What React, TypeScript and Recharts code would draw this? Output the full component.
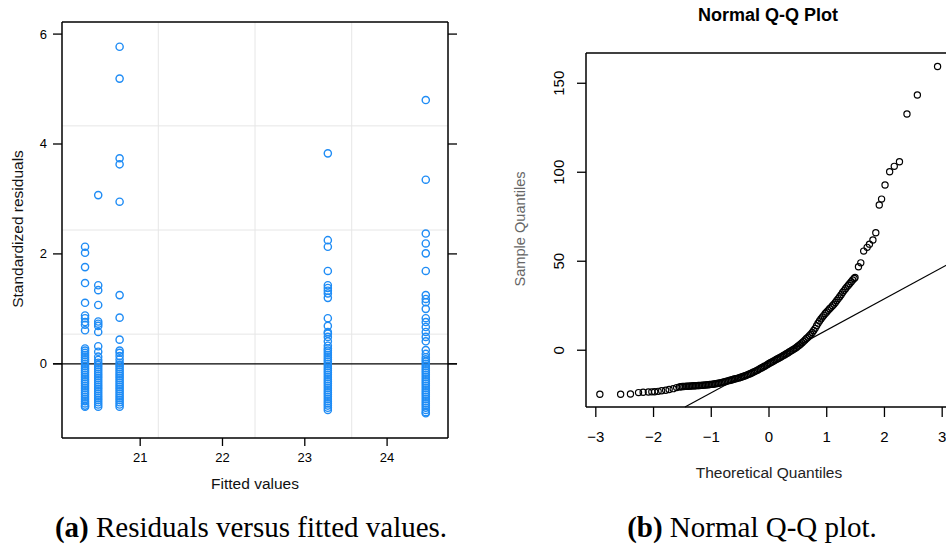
import React from 'react';
import { ScatterChart, Scatter, XAxis, YAxis, ReferenceLine } from 'recharts';

// ---- panel (a): residuals vs fitted ----
const fittedLevels = [20.33, 20.49, 20.75, 23.28, 24.47];
const residA = [
  2.13, 2.02, 1.76, 1.47, 1.11, 0.88, 0.83, 0.76, 0.71, 0.61,
  0.28, 0.24, 0.2, 0.16, 0.12, 0.08, 0.04, 0, -0.04, -0.08, -0.12, -0.16, -0.2, -0.24,
  -0.28, -0.32, -0.36, -0.4, -0.44, -0.48, -0.52, -0.56, -0.6, -0.64, -0.68, -0.72, -0.76, -0.78,
];
const residB = [
  3.07, 1.43, 1.34, 1.07, 0.77, 0.73, 0.69, 0.58, 0.32, 0.22, 0.13, 0.07,
  0.02, -0.02, -0.06, -0.1, -0.14, -0.18, -0.22, -0.26, -0.3, -0.34, -0.38, -0.42, -0.46,
  -0.5, -0.54, -0.58, -0.62, -0.66, -0.7, -0.74, -0.78,
];
const residC = [
  5.77, 5.19, 3.74, 3.63, 2.95, 1.25, 0.84, 0.44, 0.24, 0.2, 0.14, 0.08,
  0.02, -0.02, -0.06, -0.1, -0.14, -0.18, -0.22, -0.26, -0.3, -0.34, -0.38, -0.42, -0.46,
  -0.5, -0.54, -0.58, -0.62, -0.66, -0.7, -0.74, -0.78,
];
const residD = [
  3.83, 2.25, 2.13, 1.69, 1.43, 1.38, 1.33, 1.28, 1.2, 0.83, 0.69, 0.58, 0.55, 0.49, 0.41, 0.33,
  0.28, 0.24, 0.2, 0.16, 0.12, 0.08, 0.04, 0, -0.04, -0.08, -0.12, -0.16, -0.2, -0.24,
  -0.28, -0.32, -0.36, -0.4, -0.44, -0.48, -0.52, -0.56, -0.6, -0.64, -0.68, -0.72, -0.76, -0.8, -0.84,
];
const residE = [
  4.8, 3.35, 2.37, 2.19, 2.01, 1.69, 1.25, 1.18, 1.12, 1.0, 0.83, 0.76, 0.67, 0.58, 0.49, 0.41, 0.25, 0.18,
  0.12, 0.08, 0.04, 0, -0.04, -0.08, -0.12, -0.16, -0.2, -0.24, -0.28, -0.32, -0.36, -0.4,
  -0.44, -0.48, -0.52, -0.56, -0.6, -0.64, -0.68, -0.72, -0.76, -0.8, -0.84, -0.88, -0.9,
];
const residColumns = [residA, residB, residC, residD, residE];
const fittedTicks = [21, 22, 23, 24];
const residTicks = [0, 2, 4, 6];
const gridX = [21.22, 22.395, 23.57];
const gridY = [0.54, 2.435, 4.33];

// ---- panel (b): normal Q-Q ----
const qqLowTheo = [-2.93, -2.57, -2.4, -2.26, -2.18, -2.09, -2.03, -1.98, -1.92, -1.86, -1.79, -1.73, -1.66, -1.6, -1.55];
const qqLowSample = [-24.7, -24.7, -24.6, -23.8, -23.6, -23.5, -23.4, -23.3, -23.1, -22.8, -22.5, -22.1, -21.6, -21.0, -20.6];
const qqBodyTheo = [
  -1.525, -1.5, -1.475, -1.45, -1.425, -1.4, -1.375, -1.35, -1.325, -1.3, -1.275, -1.25, -1.225, -1.2, -1.175,
  -1.15, -1.125, -1.1, -1.075, -1.05, -1.025, -1.0, -0.975, -0.95, -0.925, -0.9, -0.875, -0.85, -0.825, -0.8,
  -0.775, -0.75, -0.725, -0.7, -0.675, -0.65, -0.625, -0.6, -0.575, -0.55, -0.525, -0.5, -0.475, -0.45, -0.425,
  -0.4, -0.375, -0.35, -0.325, -0.3, -0.275, -0.25, -0.225, -0.2, -0.175, -0.15, -0.125, -0.1, -0.075, -0.05,
  -0.025, 0, 0.025, 0.05, 0.075, 0.1, 0.125, 0.15, 0.175, 0.2, 0.225, 0.25, 0.275, 0.3, 0.325,
  0.35, 0.375, 0.4, 0.425, 0.45, 0.475, 0.5, 0.525, 0.55, 0.575, 0.6, 0.625, 0.65, 0.675, 0.7,
  0.725, 0.75, 0.775, 0.8, 0.825, 0.85, 0.875, 0.9, 0.925, 0.95, 0.975, 1.0, 1.025, 1.05, 1.075,
  1.1, 1.125, 1.15, 1.175, 1.2, 1.225, 1.25, 1.275, 1.3, 1.325, 1.35, 1.375, 1.4, 1.425, 1.45,
  1.475, 1.49,
];
const qqBodySample = [
  -20.5, -20.4, -20.35, -20.3, -20.25, -20.2, -20.15, -20.1, -20.05, -20.0, -19.95, -19.9, -19.85, -19.8, -19.75,
  -19.7, -19.6, -19.5, -19.45, -19.4, -19.3, -19.2, -19.1, -19.0, -18.85, -18.7, -18.55, -18.4, -18.2, -18.0,
  -17.8, -17.6, -17.35, -17.1, -16.9, -16.7, -16.45, -16.2, -16.0, -15.8, -15.55, -15.3, -15.05, -14.8, -14.5,
  -14.2, -13.85, -13.5, -13.15, -12.8, -12.4, -12.0, -11.6, -11.2, -10.75, -10.3, -9.85, -9.4, -8.95, -8.5,
  -8.0, -7.5, -7.05, -6.6, -6.15, -5.7, -5.25, -4.8, -4.35, -3.9, -3.45, -3.0, -2.5, -2.0, -1.5,
  -1.0, -0.5, 0.0, 0.5, 1.0, 1.6, 2.2, 2.85, 3.5, 4.25, 5.0, 5.8, 6.6, 7.35, 8.1,
  9.0, 10.0, 11.1, 12.3, 13.8, 15.2, 16.4, 17.6, 18.6, 19.6, 20.6, 21.5, 22.4, 23.3, 24.1,
  25.0, 25.9, 26.8, 27.9, 29.0, 30.1, 31.2, 32.4, 33.5, 34.6, 35.6, 36.5, 37.5, 38.5, 39.5,
  40.3, 40.9,
];
const qqHighTheo = [1.55, 1.59, 1.64, 1.7, 1.74, 1.8, 1.85, 1.91, 1.95, 2.01, 2.09, 2.17, 2.26, 2.39, 2.57, 2.92];
const qqHighSample = [46.9, 49.1, 55.7, 57.8, 59.6, 61.9, 66.0, 81.6, 84.9, 92.8, 100.3, 103.3, 105.9, 132.7, 143.4, 159.4];
const qqLine = [
  { x: -1.456, y: -31.9 },
  { x: 3.17, y: 49.5 },
];
const quantTicks = [-3, -2, -1, 0, 1, 2, 3];
const sampleTicks = [0, 50, 100, 150];

const residData = residColumns.flatMap((col, i) => col.map((r) => ({ x: fittedLevels[i], y: r })));
const qqTheo = [...qqLowTheo, ...qqBodyTheo, ...qqHighTheo];
const qqSample = [...qqLowSample, ...qqBodySample, ...qqHighSample];
const qqData = qqTheo.map((t, i) => ({ x: t, y: qqSample[i] }));

const SANS = '"Liberation Sans", Arial, Helvetica, sans-serif';
const SERIF = '"Liberation Serif", "Times New Roman", serif';

const BlueRing = (p: any) => (
  <circle cx={p.cx} cy={p.cy} r={3.6} fill="none" stroke="#1f8cf5" strokeWidth={1.4} />
);
const BlackRing = (p: any) => (
  <circle cx={p.cx} cy={p.cy} r={3.1} fill="none" stroke="#000" strokeWidth={1.2} />
);
const NoTick = () => <g />;

const leftBottomTick = (p: any) => (
  <text x={p.x} y={p.y} dy={14} textAnchor="middle" fontSize={13} fontFamily={SANS} fill="#000">
    {p.payload.value}
  </text>
);
const leftYTick = (p: any) => (
  <text x={p.x} y={p.y} dx={-4} dy={4.5} textAnchor="end" fontSize={13} fontFamily={SANS} fill="#000">
    {p.payload.value}
  </text>
);
const minus = (v: number) => (v < 0 ? `\u2212${Math.abs(v)}` : `${v}`);
const qqXTick = (p: any) => (
  <text x={p.x} y={p.y} dy={23} textAnchor="middle" fontSize={15} fontFamily={SANS} fill="#000">
    {minus(p.payload.value)}
  </text>
);
const qqYTick = (p: any) => {
  const bx = p.x - 10.5;
  return (
    <text
      x={bx}
      y={p.y}
      transform={`rotate(-90, ${bx}, ${p.y})`}
      textAnchor="middle"
      fontSize={15}
      fontFamily={SANS}
      fill="#000"
    >
      {p.payload.value}
    </text>
  );
};

const Txt: React.FC<{ cx: number; cy: number; rot?: number; style?: React.CSSProperties; children: React.ReactNode }> = ({
  cx,
  cy,
  rot = 0,
  style,
  children,
}) => (
  <div
    style={{
      position: 'absolute',
      left: cx,
      top: cy,
      transform: `translate(-50%, -50%) rotate(${rot}deg)`,
      whiteSpace: 'nowrap',
      lineHeight: 1,
      ...style,
    }}
  >
    {children}
  </div>
);

const App: React.FC = () => {
  return (
    <div
      style={{
        position: 'absolute',
        left: 0,
        top: 0,
        width: 946,
        height: 545,
        overflow: 'hidden',
        background: '#fff',
        fontFamily: SANS,
      }}
    >
      {/* (a) residuals vs fitted: plot box 62..448 x 22..438 */}
      <div style={{ position: 'absolute', left: 0, top: 0 }}>
        <ScatterChart width={470} height={500} margin={{ top: 12, right: 10, bottom: 32, left: 22 }}>
          <XAxis
            xAxisId="b"
            type="number"
            dataKey="x"
            domain={[20.05, 24.74]}
            ticks={fittedTicks}
            allowDataOverflow
            height={30}
            tickSize={8}
            tickMargin={2}
            tick={leftBottomTick}
            axisLine={{ stroke: '#000', strokeWidth: 1.5 }}
            tickLine={{ stroke: '#000', strokeWidth: 1.3 }}
          />
          <XAxis
            xAxisId="t"
            orientation="top"
            type="number"
            domain={[20.05, 24.74]}
            ticks={fittedTicks}
            allowDataOverflow
            height={10}
            tickSize={8}
            tick={NoTick}
            axisLine={{ stroke: '#000', strokeWidth: 1.5 }}
            tickLine={{ stroke: '#000', strokeWidth: 1.3 }}
          />
          <YAxis
            yAxisId="l"
            type="number"
            dataKey="y"
            domain={[-1.35, 6.22]}
            ticks={residTicks}
            allowDataOverflow
            width={40}
            tickSize={9}
            tickMargin={2}
            tick={leftYTick}
            axisLine={{ stroke: '#000', strokeWidth: 1.5 }}
            tickLine={{ stroke: '#000', strokeWidth: 1.3 }}
          />
          <YAxis
            yAxisId="r"
            orientation="right"
            type="number"
            domain={[-1.35, 6.22]}
            ticks={residTicks}
            allowDataOverflow
            width={12}
            tickSize={9}
            tick={NoTick}
            axisLine={{ stroke: '#000', strokeWidth: 1.5 }}
            tickLine={{ stroke: '#000', strokeWidth: 1.3 }}
          />
          {gridX.map((g) => (
            <ReferenceLine key={`gx${g}`} xAxisId="b" yAxisId="l" x={g} stroke="#e6e6e6" strokeWidth={1} />
          ))}
          {gridY.map((g) => (
            <ReferenceLine key={`gy${g}`} xAxisId="b" yAxisId="l" y={g} stroke="#e6e6e6" strokeWidth={1} />
          ))}
          <Scatter xAxisId="b" yAxisId="l" data={residData} shape={BlueRing} isAnimationActive={false} />
          <ReferenceLine
            xAxisId="b"
            yAxisId="l"
            segment={[
              { x: 19.94, y: 0 },
              { x: 24.85, y: 0 },
            ]}
            ifOverflow="visible"
            stroke="#000"
            strokeWidth={1.3}
          />
        </ScatterChart>
      </div>

      {/* (b) normal Q-Q: plot box 586..952 x 53..407 */}
      <div style={{ position: 'absolute', left: 500, top: 0 }}>
        <ScatterChart width={470} height={500} margin={{ top: 43, right: 18, bottom: 53, left: 46 }}>
          <XAxis
            xAxisId="b"
            type="number"
            dataKey="x"
            domain={[-3.17, 3.17]}
            ticks={quantTicks}
            allowDataOverflow
            height={40}
            tickSize={10}
            tickMargin={2}
            tick={qqXTick}
            axisLine={{ stroke: '#000', strokeWidth: 1.5 }}
            tickLine={{ stroke: '#000', strokeWidth: 1.3 }}
          />
          <XAxis
            xAxisId="t"
            orientation="top"
            type="number"
            domain={[-3.17, 3.17]}
            allowDataOverflow
            height={10}
            tick={false}
            tickLine={false}
            axisLine={{ stroke: '#000', strokeWidth: 1.5 }}
          />
          <YAxis
            yAxisId="l"
            type="number"
            dataKey="y"
            domain={[-31.9, 167]}
            ticks={sampleTicks}
            allowDataOverflow
            width={40}
            tickSize={9}
            tickMargin={2}
            tick={qqYTick}
            axisLine={{ stroke: '#000', strokeWidth: 1.5 }}
            tickLine={{ stroke: '#000', strokeWidth: 1.3 }}
          />
          <ReferenceLine xAxisId="b" yAxisId="l" segment={qqLine} stroke="#000" strokeWidth={1.2} />
          <Scatter xAxisId="b" yAxisId="l" data={qqData} shape={BlackRing} isAnimationActive={false} />
        </ScatterChart>
      </div>

      {/* axis titles */}
      <Txt cx={18} cy={229} rot={-90} style={{ fontSize: 15.5, color: '#111' }}>
        Standardized residuals
      </Txt>
      <Txt cx={255} cy={484} style={{ fontSize: 15.5, color: '#111' }}>
        Fitted values
      </Txt>
      <Txt cx={768} cy={15} style={{ fontSize: 18, fontWeight: 'bold', color: '#000' }}>
        Normal Q-Q Plot
      </Txt>
      <Txt cx={769} cy={473} style={{ fontSize: 15.5, color: '#222' }}>
        Theoretical Quantiles
      </Txt>
      <Txt cx={520} cy={229} rot={-90} style={{ fontSize: 14.6, color: '#666' }}>
        Sample Quantiles
      </Txt>

      {/* captions */}
      <Txt cx={251} cy={527} style={{ fontSize: 29, fontFamily: SERIF, color: '#000' }}>
        <b>(a)</b> Residuals versus fitted values.
      </Txt>
      <Txt cx={752} cy={527} style={{ fontSize: 29, fontFamily: SERIF, color: '#000' }}>
        <b>(b)</b> Normal Q-Q plot.
      </Txt>
    </div>
  );
};

export default App;
